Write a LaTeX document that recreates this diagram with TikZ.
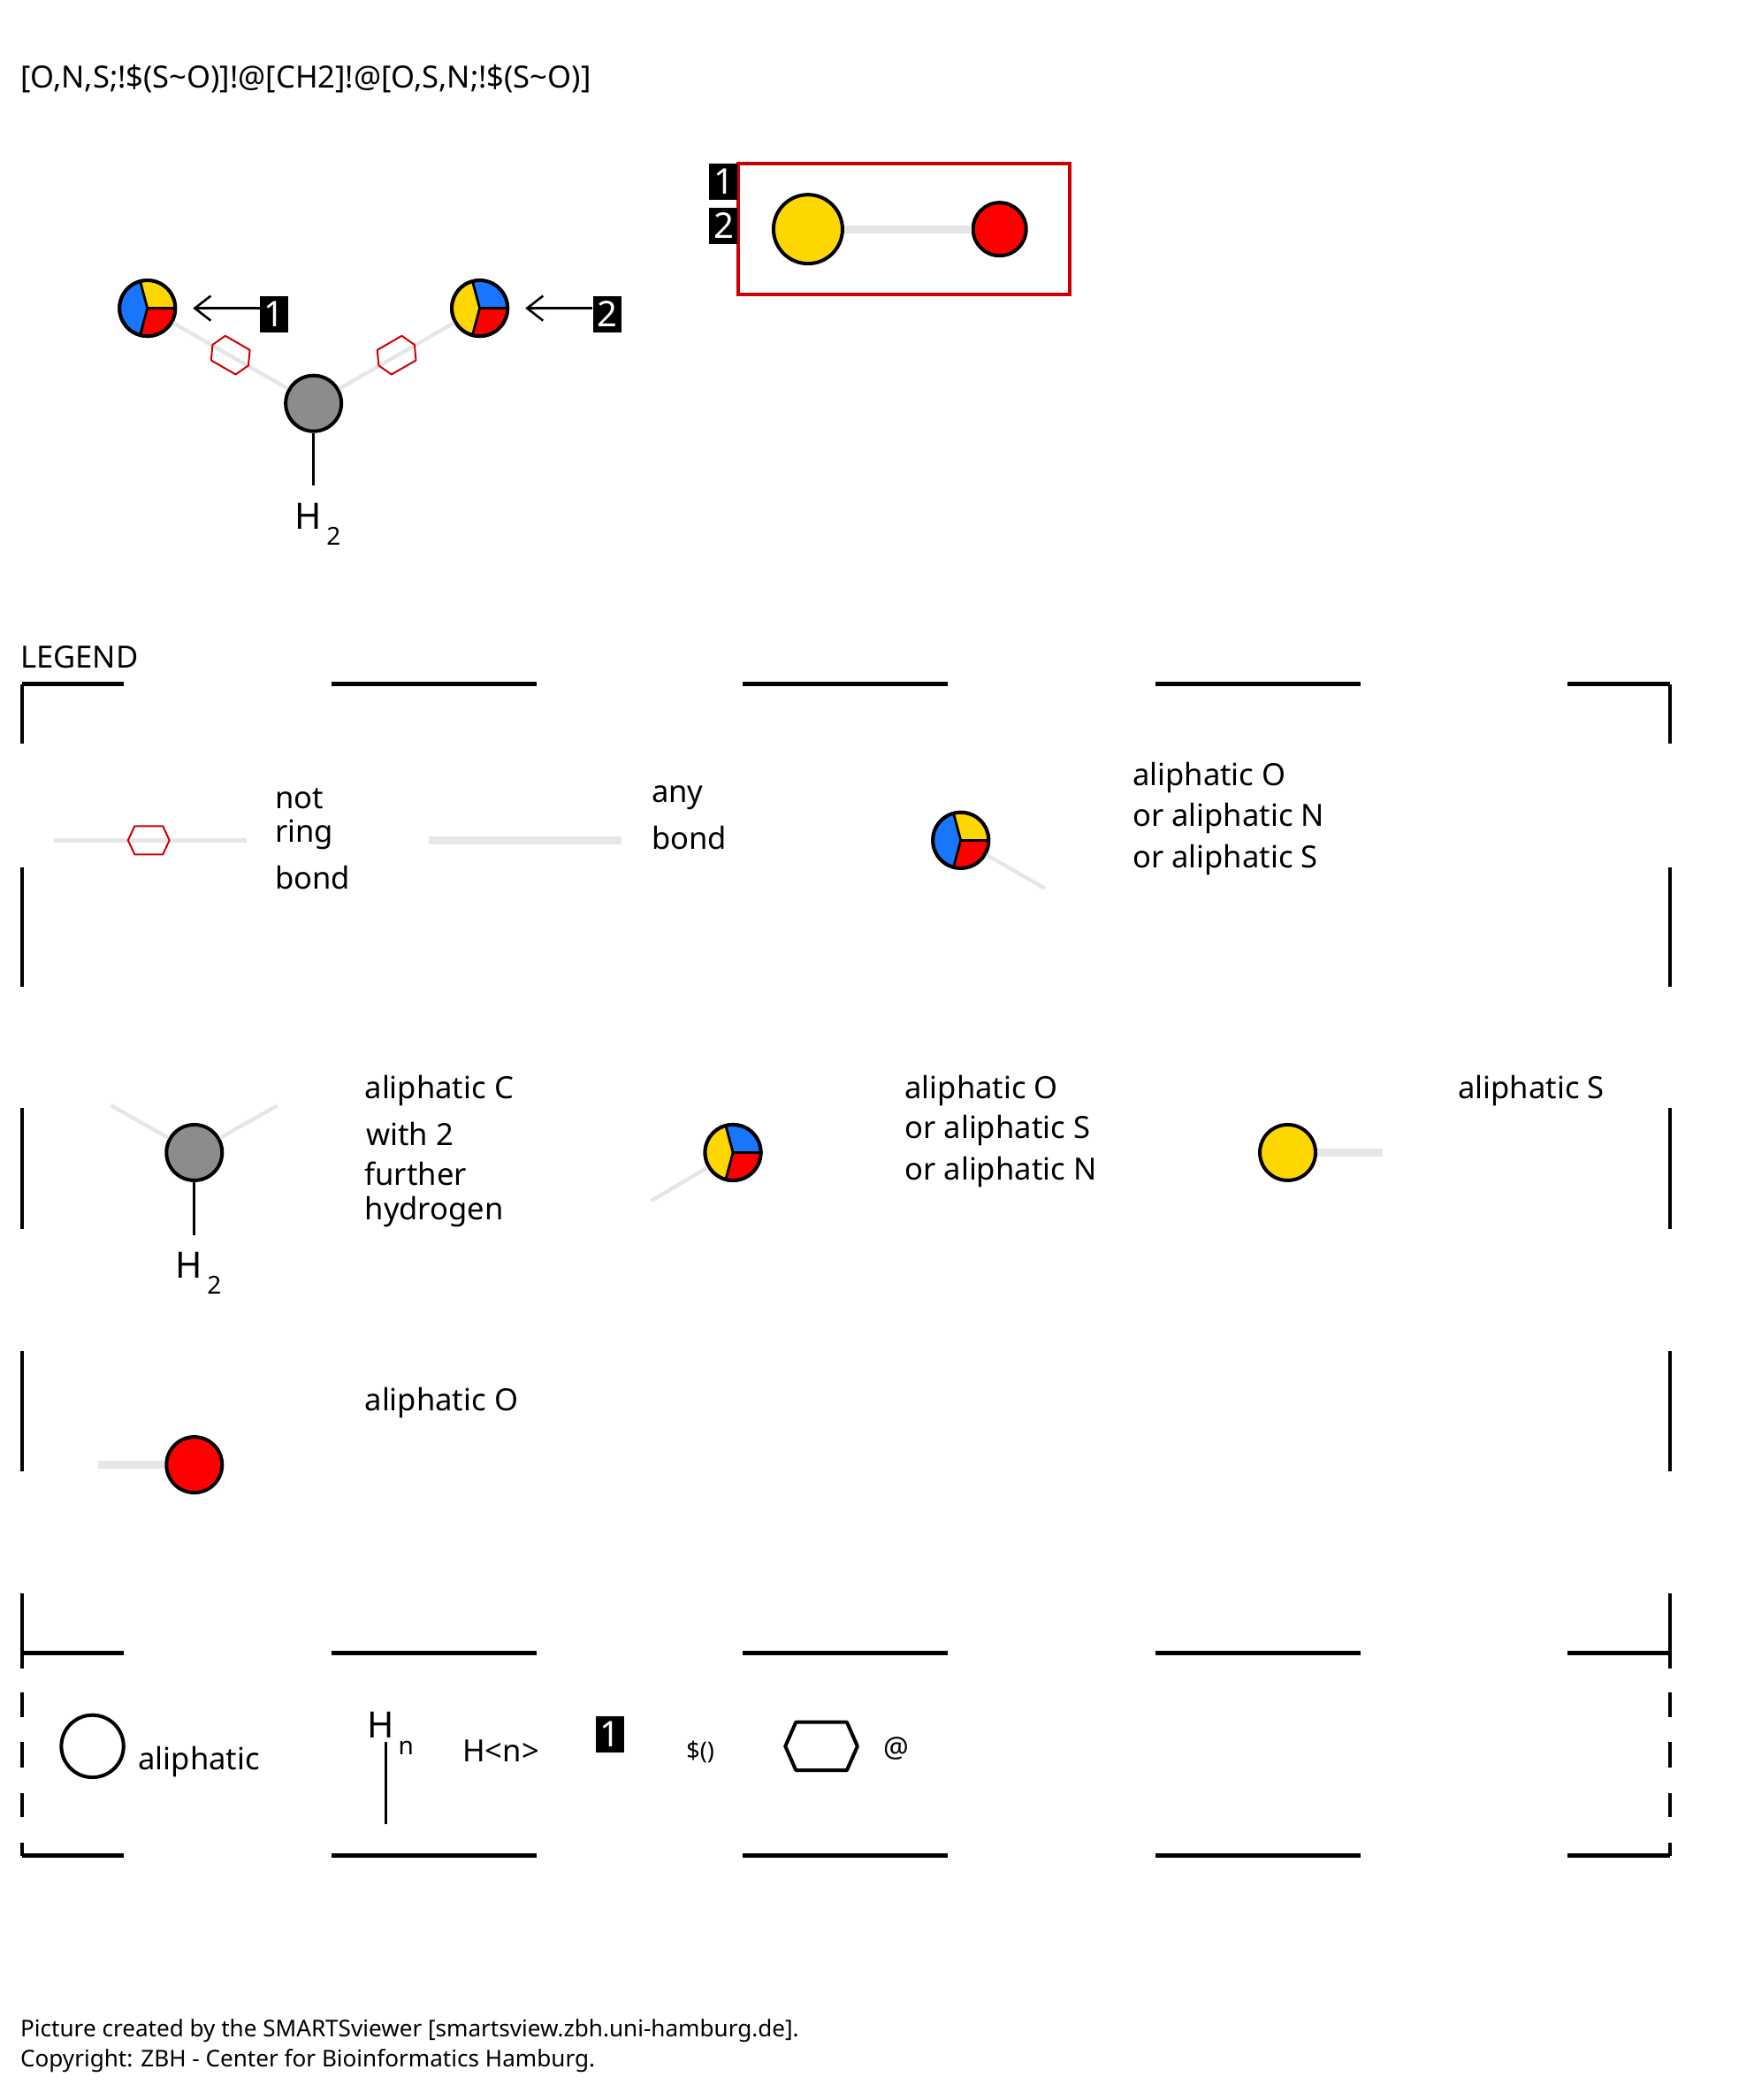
\documentclass[tikz,border=0pt]{standalone}
\usepackage{fontspec}
\setmainfont{Noto Sans}
\usetikzlibrary{arrows.meta}

\definecolor{atomyellow}{HTML}{FFD700}
\definecolor{atomblue}{HTML}{1A75FF}
\definecolor{atomred}{HTML}{FF0000}
\definecolor{atomgrey}{HTML}{8C8C8C}
\definecolor{bondgrey}{HTML}{E6E6E6}
\definecolor{ringred}{HTML}{CC0000}

\tikzstyle{atom}=[circle,draw=black,line width=2pt,inner sep=0pt,minimum size=31.5pt]
\tikzstyle{thinbond}=[draw=bondgrey,line width=2.2pt]
\tikzstyle{thickbond}=[draw=bondgrey,line width=4.5pt]
\tikzstyle{numbox}=[rectangle,fill=black,text=white,inner sep=0pt,minimum width=16pt,minimum height=20.5pt,font=\fontsize{20}{20}\selectfont]
\tikzstyle{txt}=[anchor=mid west,inner sep=0pt,yshift=-3pt,font=\fontsize{17.3}{17.3}\selectfont]
\tikzstyle{smalltxt}=[anchor=mid west,inner sep=0pt,yshift=-3pt,font=\fontsize{13.5}{13.5}\selectfont]
\tikzstyle{foottxt}=[anchor=mid west,inner sep=0pt,yshift=-3pt,font=\fontsize{13.05}{13.05}\selectfont]
\tikzstyle{hatom}=[inner sep=0pt,font=\fontsize{20.5}{20.5}\selectfont]
\tikzstyle{hcount}=[inner sep=0pt,font=\fontsize{14}{14}\selectfont]
\tikzstyle{frameh}=[line width=2.6pt]
\tikzstyle{framev}=[line width=2pt]

% three coloured sectors: name, position, upper, lower, left
\newcommand{\pieatom}[5]{
	\node (#1) at (#2) [atom] {};
	\fill [#3] (#1.center) -- ++(0:15.75pt) arc [start angle=0,end angle=105,radius=15.75pt] -- cycle;
	\fill [#4] (#1.center) -- ++(0:15.75pt) arc [start angle=0,end angle=-105,radius=15.75pt] -- cycle;
	\fill [#5] (#1.center) -- ++(105:15.75pt) arc [start angle=105,end angle=255,radius=15.75pt] -- cycle;
	\draw [line width=1.4pt] (#1.center) -- ++(0:15.75pt);
	\draw [line width=1.4pt] (#1.center) -- ++(105:15.75pt);
	\draw [line width=1.4pt] (#1.center) -- ++(255:15.75pt);
	\node at (#2) [atom] {};
}
% small ring mark: position, rotation
\newcommand{\ringmark}[2]{
	\draw [ringred,line width=1pt,shift={(#1)},rotate=#2,line join=round]
		(-11.7pt,0pt) -- (-8pt,8pt) -- (8pt,8pt) -- (11.7pt,0pt) -- (8pt,-8pt) -- (-8pt,-8pt) -- cycle;
}

\begin{document}
\begin{tikzpicture}[x=0.7578pt,y=-0.7578pt]
	\useasboundingbox (0,0) rectangle (1309,1567);

	\node (title) at (15,58) [txt] {[O,N,S;!\$(S\textasciitilde O)]!@[CH2]!@[O,S,N;!\$(S\textasciitilde O)]};

	% molecule
	\pieatom{A}{110,230}{atomyellow}{atomred}{atomblue}
	\pieatom{B}{358,230}{atomblue}{atomred}{atomyellow}
	\node (C) at (234,301) [atom,fill=atomgrey] {};
	\draw [thinbond] (A) -- (C);
	\draw [thinbond] (B) -- (C);
	\ringmark{172,265}{-30}
	\ringmark{296,265}{30}
	\node (Hc) at (230,385) [hatom] {H};
	\node (Hn) at (249,400) [hcount] {2};
	\coordinate (Cend) at (234,362);
	\draw [line width=1.3pt] (C) -- (Cend);

	\node (n1) at (204.5,234.5) [numbox] {1};
	\node (n2) at (453,234.5) [numbox] {2};
	\coordinate (t1) at (144,230);
	\coordinate (t2) at (392,230);
	\draw [-{Straight Barb[length=9pt,width=14pt]},line width=1.3pt] (n1.west |- t1) -- (t1);
	\draw [-{Straight Barb[length=9pt,width=14pt]},line width=1.3pt] (n2.west |- t2) -- (t2);

	% fragment box
	\node (box) at (674.5,171) [rectangle,draw=ringred,line width=2pt,minimum width=187.3pt,minimum height=74pt] {};
	\node (b1) at (540,135.5) [numbox] {1};
	\node (b2) at (540,168.5) [numbox] {2};
	\node (S) at (603,171) [atom,fill=atomyellow,minimum size=39pt] {};
	\node (O) at (746,171) [atom,fill=atomred,minimum size=30pt] {};
	\draw [thickbond] (S) -- (O);

	% legend frame
	\node (legend) at (15,491) [txt] {LEGEND};
	\foreach \ya in {510.5,1233.5,1384.5} {
		\foreach \xa/\xb in {16.5/92.5,247.5/400.5,554.5/707.5,862.5/1015.5,1169.5/1246.5}
			\draw [frameh] (\xa,\ya) -- (\xb,\ya);
	}
	\foreach \xa in {16.5,1246.5} {
		\foreach \ya/\yb in {511/555,647/736,827/917,1008/1098,1189/1245,1263/1281,1300/1319,1338/1356,1375/1385}
			\draw [framev] (\xa,\ya) -- (\xa,\yb);
	}

	% first row
	\coordinate (ra) at (40,627);
	\coordinate (rb) at (184,627);
	\draw [thinbond] (ra) -- (rb);
	\ringmark{111,627}{0}
	\node (t1a) at (205,596) [txt] {not};
	\node (t1b) at (205,621) [txt] {ring};
	\node (t1c) at (205,656) [txt] {bond};

	\coordinate (aa) at (320,627);
	\coordinate (ab) at (464,627);
	\draw [thickbond] (aa) -- (ab);
	\node (t2a) at (486,591) [txt] {any};
	\node (t2b) at (486,626) [txt] {bond};

	\pieatom{D}{717,627}{atomyellow}{atomred}{atomblue}
	\coordinate (Dend) at (780,663);
	\draw [thinbond] (D) -- (Dend);
	\node (t3a) at (845,579) [txt] {aliphatic O};
	\node (t3b) at (845,609) [txt] {or aliphatic N};
	\node (t3c) at (845,640) [txt] {or aliphatic S};

	% second row
	\node (E) at (145,860) [atom,fill=atomgrey] {};
	\coordinate (Ea) at (83,825);
	\coordinate (Eb) at (207,825);
	\coordinate (Ec) at (145,922);
	\draw [thinbond] (E) -- (Ea);
	\draw [thinbond] (E) -- (Eb);
	\draw [line width=1.3pt] (E) -- (Ec);
	\node (Eh) at (141,944) [hatom] {H};
	\node (En) at (160,959) [hcount] {2};
	\node (t4a) at (272,812) [txt] {aliphatic C};
	\node (t4b) at (273,847) [txt] {with 2};
	\node (t4c) at (272,877) [txt] {further};
	\node (t4d) at (272,903) [txt] {hydrogen};

	\pieatom{F}{547,860}{atomblue}{atomred}{atomyellow}
	\coordinate (Fend) at (486,896);
	\draw [thinbond] (F) -- (Fend);
	\node (t5a) at (675,812) [txt] {aliphatic O};
	\node (t5b) at (675,842) [txt] {or aliphatic S};
	\node (t5c) at (675,873) [txt] {or aliphatic N};

	\node (G) at (961,860) [atom,fill=atomyellow] {};
	\coordinate (Gend) at (1032,860);
	\draw [thickbond] (G) -- (Gend);
	\node (t6a) at (1088,812) [txt] {aliphatic S};

	% third row
	\node (K) at (145,1093) [atom,fill=atomred] {};
	\coordinate (Kend) at (73,1093);
	\draw [thickbond] (K) -- (Kend);
	\node (t7a) at (272,1045) [txt] {aliphatic O};

	% key row
	\node (L) at (69,1303) [atom,minimum size=35.2pt] {};
	\node (t8a) at (103,1313) [txt] {aliphatic};
	\node (Lh) at (284,1287) [hatom] {H};
	\node (Ln) at (303,1304) [hcount] {n};
	\coordinate (La) at (288,1300);
	\coordinate (Lb) at (288,1361);
	\draw [line width=1.3pt] (La) -- (Lb);
	\node (t8b) at (345,1307) [txt] {H<n>};
	\node (n3) at (455.5,1294) [numbox] {1};
	\node (t8c) at (512,1305) [smalltxt] {\$()};
	\draw [line width=2pt,line join=round,shift={(613,1303)}]
		(-20.4pt,0pt) -- (-14.4pt,13.6pt) -- (14.4pt,13.6pt) -- (20.4pt,0pt) -- (14.4pt,-13.6pt) -- (-14.4pt,-13.6pt) -- cycle;
	\node (t8d) at (659,1304) [smalltxt,font=\fontsize{16}{16}\selectfont] {@};

	% footer
	\node (f1) at (15,1512.5) [foottxt] {Picture created by the SMARTSviewer [smartsview.zbh.uni-hamburg.de].};
	\node (f2) at (15,1534.5) [foottxt] {Copyright: ZBH - Center for Bioinformatics Hamburg.};
\end{tikzpicture}
\end{document}
